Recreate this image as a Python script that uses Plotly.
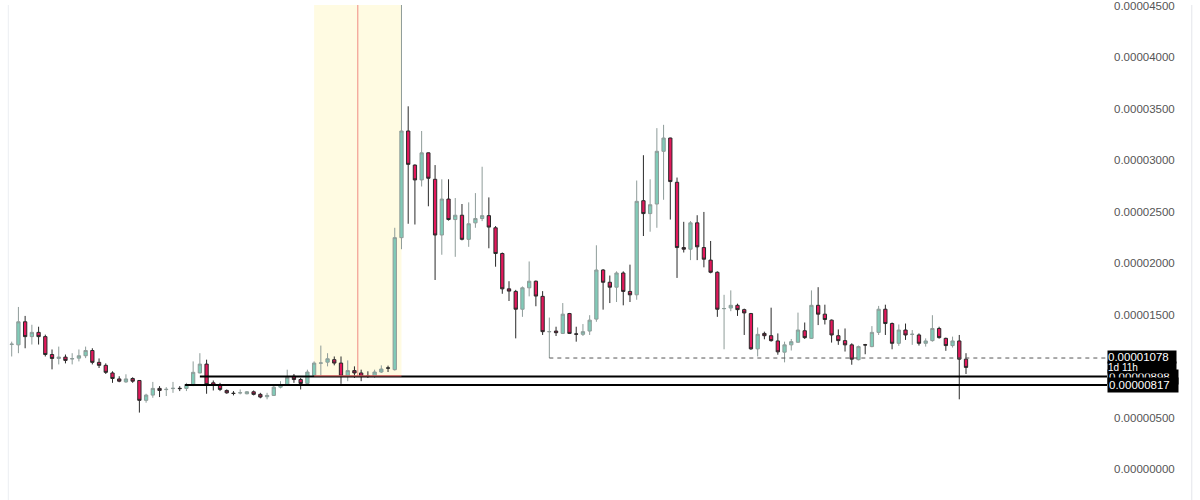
import plotly.graph_objects as go

# Prices in units of 1e-8
open_e8 = [1209,1206,1430,1286,1327,1286,1112,1074,1087,1069,1077,1100,1151,1036,1007,933,875,846,879,860,
           667,718,783,771,781,784,783,821,933,1019,837,812,763,736,739,731,750,725,702,715,
           795,821,901,869,831,908,1028,1038,1062,1029,901,956,933,903,901,942,982,965,2247,3283,
           2952,2808,3071,2814,2273,2622,2423,2465,2231,2391,2433,2461,2343,2093,1750,1725,1552,1760,1824,1677,
           1333,1340,1317,1510,1312,1308,1340,1456,1933,1814,1766,1904,1725,1692,2606,2481,2574,3086,3215,2785,
           2151,2135,2391,2151,2029,1911,1557,1564,1590,1548,1510,1167,1317,1295,1244,1135,1206,1231,1343,1269,
           1590,1504,1446,1295,1247,1206,1062,1207,1189,1327,1552,1413,1221,1350,1307,1302,1221,1247,1365,1269,
           1199,1244,1067]
high_e8 = [1237,1574,1487,1401,1382,1305,1161,1189,1112,1125,1161,1189,1173,1074,1026,949,901,920,891,863,
           731,846,805,795,846,805,837,1045,1125,1062,860,837,773,757,773,757,763,740,740,821,
           853,965,923,885,965,1045,1199,1125,1093,1093,1055,997,965,949,965,1007,1004,2343,4700,3523,
           2959,3283,3074,2952,2814,2814,2632,2574,2590,2680,2936,2638,2360,2103,1824,1740,1773,2016,1831,1728,
           1471,1382,1612,1516,1382,1408,1494,2173,1942,1879,1920,1920,1985,2802,3048,2814,3311,3343,3218,2831,
           2401,2408,2465,2497,2215,1920,1692,1735,1606,1558,1516,1375,1334,1567,1317,1237,1263,1519,1423,1735,
           1766,1596,1452,1356,1365,1221,1199,1215,1388,1584,1596,1423,1404,1413,1350,1317,1269,1494,1382,1276,
           1286,1302,1125]
low_e8 = [1093,1125,1173,1209,1209,1093,968,1016,1026,1016,1045,1077,1016,981,923,837,843,837,837,548,
          644,692,699,709,740,757,757,805,930,731,763,757,731,715,725,725,715,687,677,709,
          783,814,837,773,821,901,908,997,1007,827,853,885,853,885,885,933,942,956,2135,2382,
          2375,2744,2552,1836,2081,2413,2061,2221,2158,2343,2408,2144,1965,1702,1632,1269,1478,1677,1581,1302,
          1078,1292,1311,1311,1237,1292,1302,1430,1548,1612,1622,1590,1622,1644,2263,2305,2343,2615,2423,1856,
          2103,2029,2029,1959,1901,1478,1163,1533,1487,1302,1158,1093,1260,1237,1110,1036,1151,1228,1263,1263,
          1398,1404,1228,1206,1141,1013,1055,1115,1183,1302,1302,1163,1196,1254,1206,1199,1189,1237,1266,1148,
          1180,677,923]
close_e8 = [1213,1430,1286,1327,1286,1112,1074,1087,1055,1072,1100,1151,1036,1007,939,879,853,875,853,667,
            718,783,763,774,784,781,821,939,1019,821,812,773,740,734,741,750,725,699,715,795,
            821,891,869,831,942,1029,1030,1071,1029,901,956,933,901,900,942,971,980,2247,3283,2959,
            2808,3071,2824,2273,2622,2423,2465,2231,2382,2433,2461,2350,2093,1750,1728,1552,1760,1824,1680,1334,
            1335,1324,1504,1317,1310,1334,1446,1933,1814,1766,1904,1725,1692,2600,2481,2567,3086,3215,2792,2151,
            2135,2391,2158,2038,1911,1552,1559,1590,1548,1516,1167,1308,1295,1247,1138,1206,1237,1350,1276,1590,
            1504,1452,1302,1247,1206,1067,1189,1205,1327,1552,1413,1221,1350,1302,1309,1221,1244,1365,1276,1199,
            1244,1067,987]

y_ticks = [0, 5e-6, 10e-6, 15e-6, 20e-6, 25e-6, 30e-6, 35e-6, 40e-6, 45e-6]
y_tick_text = ["%.8f" % v for v in y_ticks]

level_dashed = 1078e-8   # dashed level
level_upper = 898e-8     # upper black line
level_lower = 817e-8     # lower black line
zone_start, zone_end, zone_mid = 45, 58, 51.5
dashed_start = 80
upper_start, lower_start = 28, 25.8
label_1078 = "0.00001078"
label_timer = "1d 11h"
label_898 = "0.00000898"
label_817 = "0.00000817"

S = 1e-8
x = list(range(len(open_e8)))

fig = go.Figure()
fig.add_trace(go.Candlestick(
    x=x,
    open=[v * S for v in open_e8],
    high=[v * S for v in high_e8],
    low=[v * S for v in low_e8],
    close=[v * S for v in close_e8],
    increasing=dict(fillcolor="#80cbb8", line=dict(color="#8e9c99", width=1)),
    decreasing=dict(fillcolor="#e3185c", line=dict(color="#2a2a2a", width=1)),
    whiskerwidth=0,
    hoverinfo="skip",
))

xmax = 162.98
shapes = [
    # highlighted zone
    dict(type="rect", xref="x", yref="y", x0=zone_start, x1=zone_end, y0=level_upper, y1=4.6e-5,
         fillcolor="#fffbe2", line=dict(width=0), layer="below"),
    dict(type="line", xref="x", yref="y", x0=zone_mid, x1=zone_mid, y0=level_upper, y1=4.6e-5,
         line=dict(color="#f08a84", width=1), layer="below"),
    # horizontal levels
    dict(type="line", xref="x", yref="y", x0=dashed_start, x1=xmax, y0=level_dashed, y1=level_dashed,
         line=dict(color="#555555", width=1, dash="4px,4px"), layer="above"),
    dict(type="line", xref="x", yref="y", x0=upper_start, x1=xmax, y0=level_upper, y1=level_upper,
         line=dict(color="#000000", width=2), layer="above"),
    dict(type="line", xref="x", yref="y", x0=lower_start, x1=xmax, y0=level_lower, y1=level_lower,
         line=dict(color="#000000", width=2), layer="above"),
    dict(type="line", xref="x", yref="y", x0=zone_start, x1=zone_end, y0=905e-8, y1=905e-8,
         line=dict(color="#f07070", width=1), layer="above"),
    # panel borders
    dict(type="line", xref="paper", yref="paper", x0=0.0075, x1=0.0075, y0=0, y1=1,
         line=dict(color="#eceef2", width=1), layer="below"),
    dict(type="line", xref="paper", yref="paper", x0=1.0766, x1=1.0766, y0=0, y1=1,
         line=dict(color="#e3e5ea", width=1)),
]

def lab(text, y, size=11.5, pad=1):
    return dict(text=text, xref="paper", yref="y", x=1.0, y=y, xanchor="left", yanchor="middle",
                showarrow=False, bgcolor="#000000", borderpad=pad, width=68, align="left",
                font=dict(family="Liberation Sans, Arial, sans-serif", size=size, color="#ffffff"))

annotations = [
    lab(label_898, level_upper),
    lab(label_1078, 1090e-8, pad=0),
    lab(label_timer, 985e-8, size=10, pad=0),
    lab(label_817, level_lower),
]

fig.update_layout(
    width=1200, height=500,
    margin=dict(l=0, r=93, t=0, b=0),
    paper_bgcolor="#ffffff", plot_bgcolor="#ffffff",
    showlegend=False,
    boxgap=0.3,
    shapes=shapes,
    annotations=annotations,
    xaxis=dict(range=[-1.74, xmax], visible=False, rangeslider=dict(visible=False), showgrid=False),
    yaxis=dict(range=[-3.01e-6, 45.07e-6], side="right", tickvals=y_ticks, ticktext=y_tick_text,
               showgrid=False, zeroline=False, showline=False, ticks="",
               ticklabelstandoff=6, ticklabeloverflow="allow",
               tickfont=dict(family="Liberation Sans, Arial, sans-serif", size=11.5, color="#555555")),
    hovermode=False,
)

fig.write_html("out.html", config={"displayModeBar": False},
               post_script="document.body.style.margin='0';")
